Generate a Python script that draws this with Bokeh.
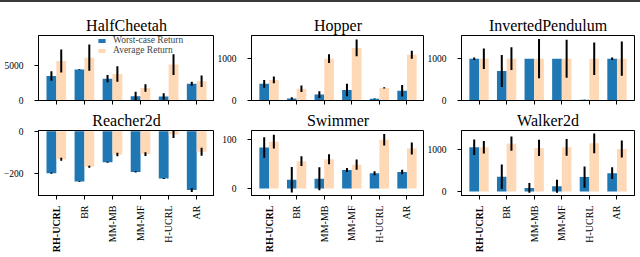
import math
from bokeh.plotting import figure
from bokeh.layouts import gridplot, column
from bokeh.models import Range1d, FixedTicker, CustomLabelingPolicy, Div
from bokeh.core.properties import value
from bokeh.embed import file_html
from bokeh.resources import INLINE

methods = ["RH-UCRL", "BR", "MM-MB", "MM-MF", "H-UCRL", "AR"]
envs = ["HalfCheetah", "Hopper", "InvertedPendulum", "Reacher2d", "Swimmer", "Walker2d"]

halfcheetah_worst = [3470, 4400, 3100, 600, 560, 2360]
halfcheetah_worst_err = [670, 50, 500, 650, 460, 280]
halfcheetah_avg = [5600, 6070, 3750, 1760, 5090, 2730]
halfcheetah_avg_err = [1620, 1850, 1090, 530, 1480, 830]

hopper_worst = [398, 47, 141, 250, 39, 234]
hopper_worst_err = [95, 30, 80, 150, 10, 137]
hopper_avg = [492, 281, 1000, 1258, 300, 1094]
hopper_avg_err = [80, 75, 105, 200, 15, 98]

pendulum_worst = [1000, 703, 1000, 1000, 15, 1000]
pendulum_worst_err = [30, 383, 0, 0, 5, 30]
pendulum_avg = [1000, 1000, 1000, 1000, 1000, 1000]
pendulum_avg_err = [245, 273, 469, 453, 390, 410]

reacher_worst = [-200, -239, -148, -194, -225, -280]
reacher_worst_err = [3, 2, 2, 3, 2, 9]
reacher_avg = [-134, -169, -111, -109, -16, -98]
reacher_avg_err = [7, 5, 8, 9, 17, 19]

swimmer_worst = [84, 18, 20, 38, 31.5, 34]
swimmer_worst_err = [21, 26, 23.5, 4, 4, 4.4]
swimmer_avg = [96, 56, 60, 49, 100, 82]
swimmer_avg_err = [14, 10, 10, 10.7, 11.7, 12.4]

walker_worst = [1046, 349, 85, 124, 341, 434]
walker_worst_err = [182, 290, 116, 155, 252, 140]
walker_avg = [1046, 1132, 1031, 1046, 1139, 1007]
walker_avg_err = [147, 170, 194, 198, 232, 201]

y_limits = [(0, 9213), (0, 1555), (0, 1555), (-306, 3), (-14.1, 118.8), (-93, 1442)]
y_ticks = [[0, 5000], [0, 1000], [0, 1000], [-200, 0], [0, 100], [0, 1000]]

BLUE = "#1f77b4"
PEACH = "#ffd8b5"
FONT = "Liberation Serif"
BAR_W = 0.35
# per column: (left border, frame width, right border)
COLS = [(38, 176, 0), (36, 174, 0), (36, 174, 4)]

no_labels = CustomLabelingPolicy(code="for (const i of indices) indices.unset(i)")


def make(idx, title, worst, worst_err, avg, avg_err, x_range):
    bottom_row = idx >= 3
    bl, fw, br = COLS[idx % 3]
    ylo, yhi = y_limits[idx]
    p = figure(width=bl + fw + br, height=95 if bottom_row else 106,
               output_backend="svg", toolbar_location=None,
               x_range=x_range, y_range=Range1d(ylo, yhi),
               title=title,
               min_border_left=bl, min_border_right=br,
               min_border_top=22 if bottom_row else 33,
               min_border_bottom=7)
    xs = list(range(len(methods)))
    xw = [x - BAR_W / 2 for x in xs]
    xa = [x + BAR_W / 2 for x in xs]
    kw_w = dict(legend_label="Worst-case Return") if idx == 0 else {}
    kw_a = dict(legend_label="Average Return") if idx == 0 else {}
    p.vbar(x=xw, top=worst, bottom=0, width=BAR_W, fill_color=BLUE, line_color=None, **kw_w)
    p.vbar(x=xa, top=avg, bottom=0, width=BAR_W, fill_color=PEACH, line_color=None, **kw_a)
    p.segment(x0=xw, x1=xw, y0=[v - e for v, e in zip(worst, worst_err)],
              y1=[v + e for v, e in zip(worst, worst_err)], line_color="black", line_width=2)
    p.segment(x0=xa, x1=xa, y0=[v - e for v, e in zip(avg, avg_err)],
              y1=[v + e for v, e in zip(avg, avg_err)], line_color="black", line_width=2)

    p.title.text_font = FONT
    p.title.text_font_size = "16px"
    p.title.text_font_style = "normal"
    p.title.align = "center"
    p.title.text_color = "black"
    p.title.standoff = 3

    p.xgrid.visible = False
    p.ygrid.visible = False
    p.outline_line_color = "black"
    p.outline_line_width = 1
    p.outline_line_alpha = 1

    p.xaxis.ticker = FixedTicker(ticks=xs)
    p.xaxis.major_label_policy = no_labels
    p.xaxis.major_label_standoff = 0
    p.xaxis.major_label_text_font_size = "1px"
    p.yaxis.ticker = FixedTicker(ticks=y_ticks[idx])
    p.yaxis.major_label_overrides = {t: (str(t).replace("-", "\u2212")) for t in y_ticks[idx]}
    for ax in (p.xaxis, p.yaxis):
        ax.minor_tick_line_color = None
        ax.major_tick_in = 0
        ax.major_tick_out = 4
        ax.major_tick_line_color = "black"
        ax.axis_line_color = "black"
        ax.major_label_text_font = FONT
        ax.major_label_text_color = "black"
    p.yaxis.major_label_text_font_size = "9.5px"
    p.yaxis.major_label_standoff = 11

    if idx == 0:
        lg = p.legend[0]
        lg.location = (59, 45)
        lg.background_fill_alpha = 0
        lg.border_line_color = None
        lg.padding = 0
        lg.margin = 0
        lg.spacing = 0
        lg.label_height = 10
        lg.label_text_font = FONT
        lg.label_text_font_size = "9.5px"
        lg.label_text_line_height = 1.0
        lg.glyph_width = 9
        lg.glyph_height = 5
        lg.label_standoff = 7
    p.background_fill_color = "white"
    p.border_fill_color = "white"
    return p


def make_labels(col, x_range):
    bl, fw, br = COLS[col]
    q = figure(width=bl + fw + br, height=54, output_backend="svg",
               toolbar_location=None, x_range=x_range, y_range=Range1d(0, 1),
               x_axis_type=None, y_axis_type=None,
               min_border_left=bl, min_border_right=br,
               min_border_top=2, min_border_bottom=0)
    q.outline_line_color = None
    q.xgrid.visible = False
    q.ygrid.visible = False
    idx = list(range(len(methods)))
    q.text(x=idx[:1], y=[1], text=methods[:1], angle=math.pi / 2,
           text_align="right", text_baseline="middle",
           text_font=value(FONT), text_font_size="10px", text_font_style="bold",
           text_color="black")
    q.text(x=idx[1:], y=[1] * (len(methods) - 1), text=methods[1:], angle=math.pi / 2,
           text_align="right", text_baseline="middle",
           text_font=value(FONT), text_font_size="10px", text_font_style="normal",
           text_color="black")
    return q


data = [
    (halfcheetah_worst, halfcheetah_worst_err, halfcheetah_avg, halfcheetah_avg_err),
    (hopper_worst, hopper_worst_err, hopper_avg, hopper_avg_err),
    (pendulum_worst, pendulum_worst_err, pendulum_avg, pendulum_avg_err),
    (reacher_worst, reacher_worst_err, reacher_avg, reacher_avg_err),
    (swimmer_worst, swimmer_worst_err, swimmer_avg, swimmer_avg_err),
    (walker_worst, walker_worst_err, walker_avg, walker_avg_err),
]

x_ranges = [Range1d(-0.635, 5.635) for _ in range(3)]
figs = [make(i, envs[i], *data[i], x_ranges[i % 3]) for i in range(6)]
labels = [make_labels(c, x_ranges[c]) for c in range(3)]
grid = gridplot([figs[:3], figs[3:], labels], toolbar_location=None)
band = Div(width=640, height=2, margin=0, styles={"background-color": "#3a3a3a"})
page = column(band, grid, spacing=0)

open("out.html", "w").write(file_html(page, INLINE))
